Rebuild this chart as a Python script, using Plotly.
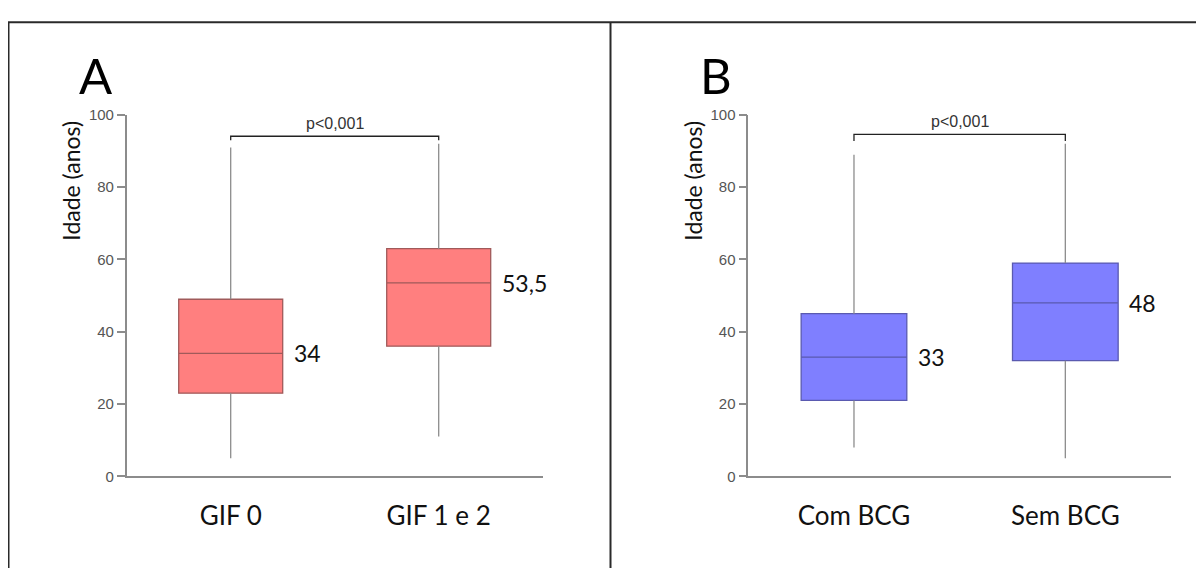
import plotly.graph_objects as go

# ---------------- data ----------------
cats_a = ["GIF 0", "GIF 1 e 2"]
low_a = [5, 11]
q1_a = [23, 36]
med_a = [34, 53.5]
q3_a = [49, 63]
up_a = [91, 92]

cats_b = ["Com BCG", "Sem BCG"]
low_b = [8, 5]
q1_b = [21, 32]
med_b = [33, 48]
q3_b = [45, 59]
up_b = [89, 92]

p_labels = ["p<0,001", "p<0,001"]
panel_letters = ["A", "B"]
y_title = "Idade (anos)"
y_ticks = [0, 20, 40, 60, 80, 100]

# ---------------- layout constants ----------------
# page body has an 8px margin: the figure sits at (8, 8) in the window
OFF = 8
W, H = 1204 - 2 * OFF, 568 - OFF
def px_x(p):
    return (p - OFF) / W
def px_y(p):
    return 1 - (p - OFF) / H

y_dom = [px_y(481.7), px_y(109)]
panels = [
    dict(cats=cats_a, low=low_a, q1=q1_a, med=med_a, q3=q3_a, up=up_a,
         fill="#FF7F7F", line="#A05A5A", dom=[px_x(126.7), px_x(542.7)],
         xa="x", ya="y", tx=("x3", "x4"), ty="y3", bracket=94.1, stub=93.0,
         ptxt=p_labels[0], letter=panel_letters[0], letter_x=96, title_x=71),
    dict(cats=cats_b, low=low_b, q1=q1_b, med=med_b, q3=q3_b, up=up_b,
         fill="#7F7FFF", line="#5A5AB0", dom=[px_x(748.3), px_x(1171)],
         xa="x2", ya="y2", tx=("x5", "x6"), ty="y4", bracket=94.6, stub=92.8,
         ptxt=p_labels[1], letter=panel_letters[1], letter_x=716, title_x=693),
]

AX_COL = "#8C8C8C"
TICK_FONT = dict(family="Liberation Sans, Arial", size=15, color="#555555")
BIG_FONT = "Lato, Open Sans, sans-serif"

fig = go.Figure()
annotations = []
layout = {}

for i, p in enumerate(panels):
    xa, ya = p["xa"], p["ya"]
    # whiskers (drawn from quartiles to fences)
    wx, wy = [], []
    for c, lo, a, b, hi in zip(p["cats"], p["low"], p["q1"], p["q3"], p["up"]):
        wx += [c, c, None, c, c, None]
        wy += [lo, a, None, b, hi, None]
    fig.add_trace(go.Scatter(x=wx, y=wy, mode="lines", xaxis=xa, yaxis=ya,
                             line=dict(color=AX_COL, width=1.3),
                             hoverinfo="skip", showlegend=False))
    # boxes
    fig.add_trace(go.Box(x=p["cats"], q1=p["q1"], median=p["med"], q3=p["q3"],
                         lowerfence=p["q1"], upperfence=p["q3"],
                         width=0.5, whiskerwidth=0, boxpoints=False,
                         fillcolor=p["fill"], line=dict(color=p["line"], width=1.3),
                         xaxis=xa, yaxis=ya, showlegend=False, hoverinfo="skip"))
    # significance bracket
    c0, c1 = p["cats"]
    fig.add_trace(go.Scatter(x=[c0, c0, c1, c1],
                             y=[p["stub"], p["bracket"], p["bracket"], p["stub"]],
                             mode="lines", xaxis=xa, yaxis=ya,
                             line=dict(color="#222222", width=1.3),
                             hoverinfo="skip", showlegend=False))
    annotations.append(dict(x=0.5, y=p["bracket"], xref=xa, yref=ya, text=p["ptxt"],
                            showarrow=False, yanchor="bottom", yshift=2,
                            font=dict(family="Liberation Sans, Arial", size=16, color="#333333")))
    # median labels
    for k, m in enumerate(p["med"]):
        annotations.append(dict(x=k + 0.25, y=m, xref=xa, yref=ya,
                                text=f"{m:g}".replace(".", ","), showarrow=False,
                                xanchor="left", yanchor="middle", xshift=9,
                                font=dict(family=BIG_FONT, size=23, color="#111111")))
    # panel letter
    annotations.append(dict(x=px_x(p["letter_x"]), y=px_y(68), xref="paper", yref="paper",
                            text=p["letter"], showarrow=False, xanchor="center",
                            yanchor="middle",
                            font=dict(family=BIG_FONT, size=49, color="#000000")))
    # y-axis title
    annotations.append(dict(x=px_x(p["title_x"]), y=81.8, xref="paper", yref=ya,
                            text=y_title, textangle=-90, showarrow=False,
                            xanchor="center", yanchor="middle",
                            font=dict(family=BIG_FONT, size=23, color="#111111")))

    xkey = "xaxis" if xa == "x" else "xaxis" + xa[1:]
    ykey = "yaxis" if ya == "y" else "yaxis" + ya[1:]
    layout[xkey] = dict(domain=p["dom"], anchor=ya, type="category",
                        range=[-0.5, 1.5], showline=True, linecolor=AX_COL,
                        linewidth=1.5, ticks="", showgrid=False, zeroline=False,
                        ticklabelstandoff=16,
                        tickfont=dict(family=BIG_FONT, size=26, color="#111111"))
    layout[ykey] = dict(domain=y_dom, anchor=xa, range=[0, 100],
                        tickvals=y_ticks, showline=True, linecolor=AX_COL,
                        linewidth=1.5, ticks="outside", ticklen=8, tickcolor=AX_COL,
                        tickwidth=1.5, showgrid=False, zeroline=False,
                        tickfont=TICK_FONT)
    # helper axes: ticks crossing the axis lines
    for t, mode in zip(p["tx"], ["outside", "inside"]):
        layout["xaxis" + t[1:]] = dict(domain=p["dom"], anchor=ya, overlaying=xa,
                                      range=[-0.5, 1.5], tickvals=[0.5, 1.5],
                                      ticks=mode, ticklen=8, tickwidth=1.5,
                                      tickcolor=AX_COL, showticklabels=False,
                                      showline=False, showgrid=False, zeroline=False)
    layout["yaxis" + p["ty"][1:]] = dict(domain=y_dom, anchor=xa, overlaying=ya,
                                         range=[0, 100], tickvals=y_ticks,
                                         ticks="inside", ticklen=8, tickwidth=1.5,
                                         tickcolor=AX_COL, showticklabels=False,
                                         showline=False, showgrid=False, zeroline=False)

# frame lines
frame = dict(color="#2a2a2a", width=2)
top = px_y(13.3)
shapes = [
    dict(type="line", xref="paper", yref="paper", x0=px_x(7.7), x1=px_x(1197), y0=top, y1=top, line=frame),
    dict(type="line", xref="paper", yref="paper", x0=px_x(8.5), x1=px_x(8.5), y0=top, y1=-0.05, line=frame),
    dict(type="line", xref="paper", yref="paper", x0=px_x(610.5), x1=px_x(610.5), y0=top, y1=-0.05, line=frame),
    dict(type="line", xref="paper", yref="paper", x0=px_x(1197), x1=px_x(1197), y0=top, y1=-0.05, line=frame),
]

fig.update_layout(width=W, height=H, margin=dict(l=0, r=0, t=0, b=0),
                  paper_bgcolor="white", plot_bgcolor="rgba(0,0,0,0)",
                  showlegend=False, annotations=annotations, shapes=shapes,
                  boxmode="overlay", **layout)

fig.write_html("out.html")
